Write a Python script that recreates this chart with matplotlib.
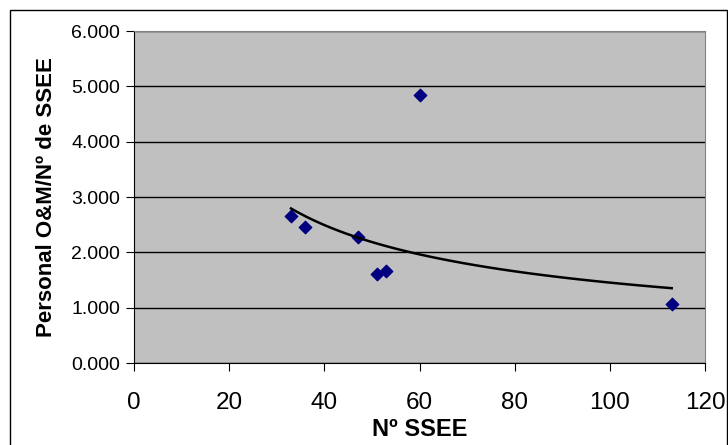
import numpy as np
import matplotlib.pyplot as plt
from matplotlib.patches import Rectangle
from matplotlib.ticker import FuncFormatter

plt.rcParams['font.family'] = ['Liberation Sans', 'DejaVu Sans']

# Nº de subestaciones y personal por subestación
n_ssee = [33, 36, 47, 51, 53, 60, 113]
personal = [2.66, 2.45, 2.27, 1.60, 1.66, 4.84, 1.07]

# línea de tendencia potencial
b, ln_a = np.polyfit(np.log(n_ssee), np.log(personal), 1)
xt = np.linspace(min(n_ssee), max(n_ssee), 100)
yt = np.exp(ln_a) * xt ** b

fig = plt.figure(figsize=(7.28, 4.45), dpi=100)
ax = fig.add_axes([134 / 728, 1 - 363 / 445, (705 - 134) / 728, (363 - 31) / 445])
ax.set_facecolor('#c0c0c0')

ax.scatter(n_ssee, personal, marker='D', s=40, color='#000080', zorder=3)
ax.plot(xt, yt, color='black', lw=1.8, zorder=4)

ax.set_xlim(0, 120)
ax.set_ylim(0, 6)
ax.set_xticks(range(0, 121, 20))
ax.set_yticks(range(0, 7))
ax.yaxis.set_major_formatter(FuncFormatter(lambda v, p: f'{v:.3f}'))
ax.grid(axis='y', color='black', lw=1)
ax.set_axisbelow(True)
ax.tick_params(axis='x', labelsize=17.5, direction='out', length=6, pad=15)
ax.tick_params(axis='y', labelsize=14, direction='out', length=6, pad=4)
for s in ['top', 'right']:
    ax.spines[s].set_color('#808080')
ax.spines['left'].set_color('black')
ax.spines['bottom'].set_color('black')

ax.set_xlabel('Nº SSEE', fontsize=17, fontweight='bold', labelpad=3)
ax.set_ylabel('Personal O&M/Nº de SSEE', fontsize=16, fontweight='bold', labelpad=10)

fig.patches.append(Rectangle((10 / 728, -0.01), 717 / 728, 1 - 10 / 445 + 0.01,
                             transform=fig.transFigure, fill=False,
                             edgecolor='black', lw=1))

plt.savefig('out.png', dpi=100)
